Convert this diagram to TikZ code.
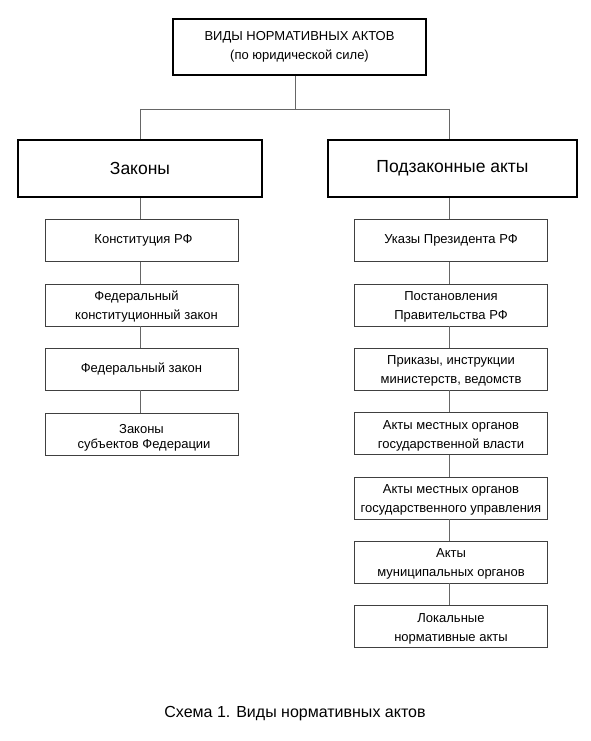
\documentclass[tikz,border=0pt]{standalone}
\usepackage{fontspec}
\setmainfont{Liberation Sans}
\begin{document}
\begin{tikzpicture}[x=1pt,y=-1pt,
  thickbox/.style={draw=black,line width=2pt,inner sep=0pt,align=center},
  smallbox/.style={draw=black!75,line width=0.9pt,minimum width=193pt,minimum height=42pt,inner sep=0pt,align=center,font=\fontsize{13}{19}\selectfont},
  twotext/.style={label={[inner sep=0pt,align=center,font=\fontsize{13}{19}\selectfont,yshift=-2pt]center:#1}},
  conn/.style={draw=black!60,line width=0.9pt}]
\useasboundingbox (0,0) rectangle (590,741);
\fill[white] (0,0) rectangle (590,741);
\node[thickbox,minimum width=253pt,minimum height=56pt,font=\fontsize{13}{19}\selectfont] (top) at (299.5,47) {ВИДЫ НОРМАТИВНЫХ АКТОВ\\(по юридической силе)};
\node[thickbox,minimum width=244pt,minimum height=57pt,font=\fontsize{17.5}{20}\selectfont] (laws) at (140,168.5) {Законы};
\node[thickbox,minimum width=249pt,minimum height=57pt,font=\fontsize{17.5}{20}\selectfont] (sub) at (452.5,168.5) {Подзаконные акты};
\coordinate (jL) at (140,109);
\coordinate (jR) at (449,109);
\coordinate (jT) at (295,109);
% left column
\node[smallbox] (l1) at (141.5,240.5) {\hspace*{4pt}Конституция РФ};
\node[smallbox,twotext={Федеральный\hspace*{10pt}\\\hspace*{10pt}конституционный закон}] (l2) at (141.5,305) {};
\node[smallbox] (l3) at (141.5,369) {Федеральный закон};
\node[smallbox,label={[inner sep=0pt,align=center,font=\fontsize{13}{15.5}\selectfont,yshift=-4pt]center:Законы\\\hspace*{5pt}субъектов Федерации}] (l4) at (141.5,434) {};
% right column
\node[smallbox] (r1) at (451,240.5) {Указы Президента РФ};
\node[smallbox,twotext={Постановления\\Правительства РФ}] (r2) at (451,305) {};
\node[smallbox,twotext={Приказы, инструкции\\министерств, ведомств}] (r3) at (451,369) {};
\node[smallbox,twotext={Акты местных органов\\государственной власти}] (r4) at (451,433.5) {};
\node[smallbox,twotext={Акты местных органов\\государственного управления}] (r5) at (451,498) {};
\node[smallbox,twotext={Акты\\муниципальных органов}] (r6) at (451,562) {};
\node[smallbox,twotext={Локальные\\нормативные акты}] (r7) at (451,626.5) {};
\node[font=\fontsize{16}{19}\selectfont] (cap) at (295,714) {Схема 1. Виды нормативных актов};
% connectors
\draw[conn] (top.south -| jT) -- (jT);
\draw[conn] (jL) -- (jR);
\draw[conn] (jL) -- (jL |- laws.north);
\draw[conn] (jR) -- (jR |- sub.north);
\draw[conn] (jL |- laws.south) -- (jL |- l1.north);
\draw[conn] (jL |- l1.south) -- (jL |- l2.north);
\draw[conn] (jL |- l2.south) -- (jL |- l3.north);
\draw[conn] (jL |- l3.south) -- (jL |- l4.north);
\draw[conn] (jR |- sub.south) -- (jR |- r1.north);
\draw[conn] (jR |- r1.south) -- (jR |- r2.north);
\draw[conn] (jR |- r2.south) -- (jR |- r3.north);
\draw[conn] (jR |- r3.south) -- (jR |- r4.north);
\draw[conn] (jR |- r4.south) -- (jR |- r5.north);
\draw[conn] (jR |- r5.south) -- (jR |- r6.north);
\draw[conn] (jR |- r6.south) -- (jR |- r7.north);
\end{tikzpicture}
\end{document}
